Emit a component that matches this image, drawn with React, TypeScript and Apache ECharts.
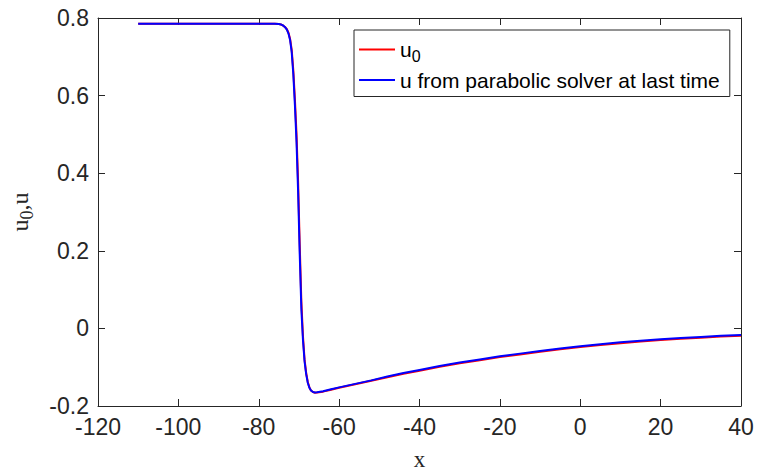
import React, { useEffect, useRef } from "react";
import * as echarts from "echarts";

const xValues = [
  -110, -90, -80, -76, -75, -74.5, -74, -73.5, -73, -72.6, -72.2, -71.8, -71.4, -71.0, -70.6, -70.2, -69.8,
  -69.4, -69.0, -68.6, -68.2, -67.8, -67.4, -67.0, -66.5, -66.0, -65.5, -64, -62, -60, -56, -52, -48, -44,
  -40, -35, -30, -25, -20, -15, -10, -5, 0, 5, 10, 15, 20, 25, 30, 35, 40,
];

const u0Values = [
  0.785, 0.785, 0.785, 0.785, 0.7845, 0.7835, 0.781, 0.777, 0.771, 0.762, 0.746, 0.718, 0.665, 0.59, 0.5,
  0.375, 0.215, 0.07, -0.02, -0.08, -0.115, -0.138, -0.152, -0.16, -0.164, -0.166, -0.1655, -0.163, -0.158,
  -0.153, -0.144, -0.135, -0.126, -0.117, -0.109, -0.099, -0.09, -0.082, -0.074, -0.067, -0.06, -0.054,
  -0.048, -0.043, -0.038, -0.034, -0.03, -0.027, -0.024, -0.021, -0.019,
];

const uValues = [
  0.785, 0.785, 0.785, 0.785, 0.7845, 0.7835, 0.781, 0.777, 0.77, 0.76, 0.743, 0.712, 0.655, 0.575, 0.48,
  0.35, 0.19, 0.05, -0.03, -0.085, -0.118, -0.14, -0.153, -0.16, -0.164, -0.165, -0.1645, -0.162, -0.157,
  -0.152, -0.143, -0.134, -0.124, -0.115, -0.107, -0.097, -0.088, -0.08, -0.072, -0.065, -0.058, -0.052,
  -0.046, -0.041, -0.036, -0.032, -0.028, -0.025, -0.022, -0.019, -0.017,
];

const seriesNames = ["u0", "u from parabolic solver at last time"];
const xTicks = { min: -120, max: 40, interval: 20 };
const yTicks = { min: -0.2, max: 0.8, interval: 0.2 };

const AXIS_COLOR = "#262626";
const SANS = "Liberation Sans";
const SERIF = "Liberation Serif";

export default function App() {
  const ref = useRef<HTMLDivElement>(null);

  useEffect(() => {
    if (!ref.current) return;
    const chart = echarts.init(ref.current, undefined, { renderer: "svg" });

    const toPairs = (ys: number[]) => xValues.map((x, i) => [x, ys[i]]);

    const axisCommon = {
      axisLine: { show: true, onZero: false, lineStyle: { color: AXIS_COLOR, width: 1 } },
      axisTick: { show: true, inside: true, length: 7, lineStyle: { color: AXIS_COLOR } },
      splitLine: { show: false },
    };

    chart.setOption({
      animation: false,
      backgroundColor: "#ffffff",
      grid: { left: 98, right: 16, top: 18, bottom: 68, containLabel: false },
      legend: {
        orient: "vertical",
        left: 354,
        top: 30,
        padding: [9, 10, 6, 5],
        icon: "rect",
        itemWidth: 36,
        itemHeight: 2,
        itemGap: 5,
        backgroundColor: "#ffffff",
        borderColor: AXIS_COLOR,
        borderWidth: 1,
        data: seriesNames,
        formatter: (name: string) => (name === "u0" ? "{a|u}{s|0}" : "{a|" + name + "}"),
        textStyle: {
          fontFamily: SANS,
          fontSize: 21,
          color: "#000000",
          rich: {
            a: { fontFamily: SANS, fontSize: 21, color: "#000" },
            s: { fontFamily: SANS, fontSize: 16, color: "#000", padding: [14, 0, 0, 0] },
          },
        },
      },
      xAxis: [
        {
          type: "value",
          position: "bottom",
          min: xTicks.min,
          max: xTicks.max,
          interval: xTicks.interval,
          ...axisCommon,
          axisLabel: { fontFamily: SANS, fontSize: 23, color: AXIS_COLOR, margin: 9 },
          name: "x",
          nameLocation: "middle",
          nameGap: 42,
          nameTextStyle: { fontFamily: SERIF, fontSize: 23, color: AXIS_COLOR },
        },
        {
          type: "value",
          position: "top",
          min: xTicks.min,
          max: xTicks.max,
          interval: xTicks.interval,
          ...axisCommon,
          axisLabel: { show: false },
        },
      ],
      yAxis: [
        {
          type: "value",
          position: "left",
          min: yTicks.min,
          max: yTicks.max,
          interval: yTicks.interval,
          ...axisCommon,
          axisLabel: {
            fontFamily: SANS,
            fontSize: 23,
            color: AXIS_COLOR,
            margin: 9,
            formatter: (v: number) => String(+v.toFixed(1)),
          },
          name: "{a|u}{s|0}{a|,u}",
          nameLocation: "middle",
          nameGap: 62,
          nameRotate: 90,
          nameTextStyle: {
            fontFamily: SERIF,
            fontSize: 24,
            color: AXIS_COLOR,
            rich: {
              a: { fontFamily: SERIF, fontSize: 24, color: AXIS_COLOR },
              s: { fontFamily: SERIF, fontSize: 18, color: AXIS_COLOR, padding: [14, 0, 0, 0] },
            },
          },
        },
        {
          type: "value",
          position: "right",
          min: yTicks.min,
          max: yTicks.max,
          interval: yTicks.interval,
          ...axisCommon,
          axisLabel: { show: false },
        },
      ],
      series: [
        {
          name: seriesNames[0],
          type: "line",
          data: toPairs(u0Values),
          symbol: "none",
          showSymbol: false,
          lineStyle: { color: "#ff0000", width: 2 },
          itemStyle: { color: "#ff0000" },
        },
        {
          name: seriesNames[1],
          type: "line",
          data: toPairs(uValues),
          symbol: "none",
          showSymbol: false,
          lineStyle: { color: "#0000ff", width: 2 },
          itemStyle: { color: "#0000ff" },
        },
      ],
    });

    return () => chart.dispose();
  }, []);

  return (
    <div
      ref={ref}
      style={{ position: "fixed", left: 0, top: 0, width: 757, height: 476, background: "#fff" }}
    />
  );
}
